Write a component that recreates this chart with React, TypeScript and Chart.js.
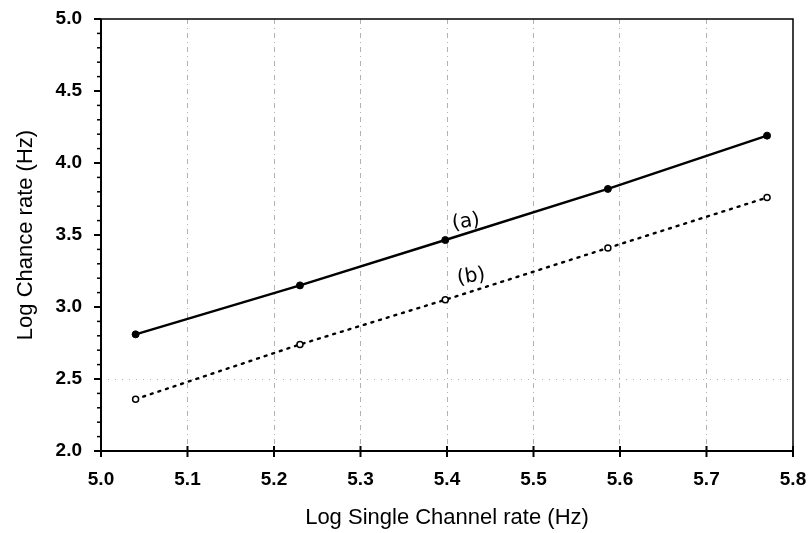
import React, { useEffect, useRef } from 'react';
import { Chart, registerables } from 'chart.js';

Chart.register(...registerables);

// Data
const xValues = [5.04, 5.23, 5.398, 5.586, 5.77];
const seriesA = [2.81, 3.15, 3.465, 3.82, 4.19];
const seriesB = [2.36, 2.74, 3.05, 3.41, 3.76];

const xTickValues = [5.0, 5.1, 5.2, 5.3, 5.4, 5.5, 5.6, 5.7, 5.8];
const yMajorTicks = [2.0, 2.5, 3.0, 3.5, 4.0, 4.5, 5.0];
const yMinorTicks = [
  2.1, 2.2, 2.3, 2.4, 2.6, 2.7, 2.8, 2.9, 3.1, 3.2, 3.3, 3.4, 3.6, 3.7, 3.8, 3.9,
  4.1, 4.2, 4.3, 4.4, 4.6, 4.7, 4.8, 4.9,
];

const curveLabels = ['(a)', '(b)'];
const curveLabelX = [5.422, 5.428];
const curveLabelY = [3.59, 3.21];

const xTitle = 'Log Single Channel rate (Hz)';
const yTitle = 'Log Chance rate (Hz)';

const framePlugin = {
  id: 'framePlugin',
  afterDraw(chart: any) {
    const { ctx, chartArea, scales } = chart;
    const xs = scales.x;
    const ys = scales.y;
    ctx.save();
    ctx.strokeStyle = '#000';
    // frame
    ctx.lineWidth = 1.5;
    ctx.beginPath();
    ctx.moveTo(chartArea.left, chartArea.top);
    ctx.lineTo(chartArea.right, chartArea.top);
    ctx.lineTo(chartArea.right, chartArea.bottom);
    ctx.stroke();
    ctx.lineWidth = 2;
    ctx.beginPath();
    ctx.moveTo(chartArea.left, chartArea.top);
    ctx.lineTo(chartArea.left, chartArea.bottom);
    ctx.lineTo(chartArea.right, chartArea.bottom);
    ctx.stroke();
    // x ticks crossing the axis
    ctx.lineWidth = 2;
    xTickValues.forEach((v) => {
      const px = xs.getPixelForValue(v);
      ctx.beginPath();
      ctx.moveTo(px, chartArea.bottom - 5);
      ctx.lineTo(px, chartArea.bottom + 6);
      ctx.stroke();
    });
    // y ticks outward
    yMajorTicks.forEach((v) => {
      const py = ys.getPixelForValue(v);
      ctx.beginPath();
      ctx.moveTo(chartArea.left - 7, py);
      ctx.lineTo(chartArea.left, py);
      ctx.stroke();
    });
    ctx.lineWidth = 1.5;
    yMinorTicks.forEach((v) => {
      const py = ys.getPixelForValue(v);
      ctx.beginPath();
      ctx.moveTo(chartArea.left - 4, py);
      ctx.lineTo(chartArea.left, py);
      ctx.stroke();
    });
    // curve labels
    ctx.fillStyle = '#000';
    ctx.font = '20px "DejaVu Sans", sans-serif';
    ctx.textAlign = 'center';
    ctx.textBaseline = 'middle';
    curveLabels.forEach((t, i) => {
      const px = xs.getPixelForValue(curveLabelX[i]);
      const py = ys.getPixelForValue(curveLabelY[i]);
      ctx.save();
      ctx.translate(px, py);
      ctx.rotate(-0.15);
      ctx.fillText(t, 0, 0);
      ctx.restore();
    });
    ctx.restore();
  },
};

export default function App() {
  const canvasRef = useRef<HTMLCanvasElement | null>(null);

  useEffect(() => {
    if (!canvasRef.current) return;
    const dataA = xValues.map((x, i) => ({ x, y: seriesA[i] }));
    const dataB = xValues.map((x, i) => ({ x, y: seriesB[i] }));
    const chart = new Chart(canvasRef.current, {
      type: 'scatter',
      data: {
        datasets: [
          {
            label: '(a)',
            data: dataA,
            showLine: true,
            borderColor: '#000',
            borderWidth: 2.5,
            backgroundColor: '#000',
            pointBackgroundColor: '#000',
            pointBorderColor: '#000',
            pointRadius: 3.5,
            pointBorderWidth: 1,
          },
          {
            label: '(b)',
            data: dataB,
            showLine: true,
            borderColor: '#000',
            borderWidth: 2.4,
            borderDash: [2, 6],
            borderCapStyle: 'round',
            backgroundColor: '#fff',
            pointBackgroundColor: '#fff',
            pointBorderColor: '#000',
            pointRadius: 3,
            pointBorderWidth: 1.5,
          },
        ],
      },
      options: {
        responsive: false,
        animation: false,
        layout: { padding: { top: 19, right: 15, bottom: 0, left: 0 } },
        plugins: {
          legend: { display: false },
          tooltip: { enabled: false },
        },
        scales: {
          x: {
            type: 'linear',
            min: 5.0,
            max: 5.8,
            afterFit: (s: any) => {
              s.height = 82;
            },
            ticks: {
              stepSize: 0.1,
              padding: 0,
              color: '#000',
              font: { family: '"Liberation Sans", Arial, sans-serif', size: 19, weight: 'bold' },
              callback: (v: any) => Number(v).toFixed(1),
            },
            grid: {
              drawTicks: true,
              tickLength: 17,
              tickColor: 'rgba(0,0,0,0)',
              color: (c: any) => {
                const v = c.tick ? c.tick.value : 0;
                if (Math.abs(v - 5.0) < 1e-6 || Math.abs(v - 5.8) < 1e-6) return 'rgba(0,0,0,0)';
                return 'rgba(0,0,0,0.3)';
              },
              lineWidth: 1,
            },
            border: { display: false, dash: [5, 4, 1, 4] },
            title: {
              display: true,
              text: xTitle,
              color: '#000',
              font: { family: '"Liberation Sans", Arial, sans-serif', size: 22 },
              padding: { top: 0, bottom: 2 },
            },
          },
          y: {
            type: 'linear',
            min: 2.0,
            max: 5.0,
            afterFit: (s: any) => {
              s.width = 101;
            },
            ticks: {
              stepSize: 0.5,
              padding: 0,
              color: '#000',
              font: { family: '"Liberation Sans", Arial, sans-serif', size: 19, weight: 'bold' },
              callback: (v: any) => Number(v).toFixed(1),
            },
            grid: {
              drawTicks: true,
              tickLength: 19,
              tickColor: 'rgba(0,0,0,0)',
              color: (c: any) => {
                const v = c.tick ? c.tick.value : 0;
                if (Math.abs(v - 2.5) < 1e-6) return 'rgba(0,0,0,0.3)';
                return 'rgba(0,0,0,0)';
              },
              lineWidth: 1,
            },
            border: { display: false, dash: [1, 6] },
            title: {
              display: true,
              text: yTitle,
              color: '#000',
              font: { family: '"Liberation Sans", Arial, sans-serif', size: 22 },
              padding: { top: 13, bottom: 0 },
            },
          },
        },
      },
      plugins: [framePlugin],
    });
    return () => chart.destroy();
  }, []);

  return (
    <div style={{ position: 'absolute', left: 0, top: 0, width: 808, height: 533, background: '#fff' }}>
      <canvas ref={canvasRef} width={808} height={533} />
    </div>
  );
}
